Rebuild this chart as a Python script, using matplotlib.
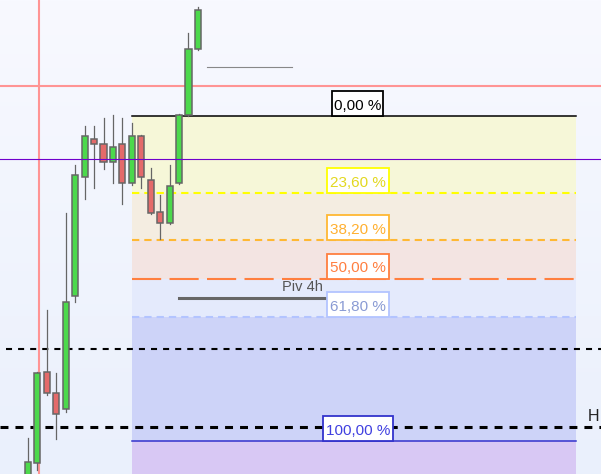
import numpy as np
import matplotlib.pyplot as plt
from matplotlib.patches import Rectangle
from matplotlib.colors import LinearSegmentedColormap

plt.rcParams['font.family'] = ['Liberation Sans', 'DejaVu Sans']

# candles (price units, no axis shown on the chart)
opens = [-11, 11, 102, 81, 65, 178, 297, 335, 330, 312, 330, 291, 338, 294, 262, 251, 291, 359, 425]
closes = [12, 101, 81, 60, 172, 299, 338, 330, 312, 327, 291, 338, 297, 261, 251, 288, 359, 425, 464]
highs = [36, 102, 164, 101, 261, 309, 348, 348, 356, 359, 356, 351, 339, 306, 279, 309, 360, 441, 467]
lows = [-16, 4, 79, 35, 62, 172, 275, 286, 305, 291, 270, 289, 286, 260, 235, 250, 290, 358, 424]

# fibonacci retracement
fib_high = 358
fib_low = 33
fib_start, fib_end = 11, 58
fib_ratios = [0.0, 23.6, 38.2, 50.0, 61.8, 100.0]
fib_labels = ['0,00 %', '23,60 %', '38,20 %', '50,00 %', '61,80 %', '100,00 %']
fib_line_colors = ['black', '#ffff00', '#ffb833', '#ff7f3f', '#b3c4ff', '#3333cc']
fib_text_colors = ['black', '#e2d820', '#ffb030', '#ff7f40', '#8a9bd4', '#4040e0']
fib_fills = ['#f6f7d8', '#f4ede1', '#f3e4e2', '#e4eafc', '#cdd3f8', '#d8c8f4']
fib_box_half = [2.7, 3.25, 3.25, 3.25, 3.25, 3.7]

# other levels / markers
cross_x, cross_y = 1.17, 388
purple_level = 315
dashed_levels = [125, 47]
grey_seg = (19, 28, 407)
pivot_level = 176
pivot_seg = (16, 33.5)

fig = plt.figure(figsize=(6.01, 4.74), dpi=100)
ax = fig.add_axes([0, 0, 1, 1])
xmin, xmax = -28 / 9.44, (601 - 28) / 9.44
ax.set_xlim(xmin, xmax)
ax.set_ylim(0, 474)
ax.axis('off')

# background gradient
cmap = LinearSegmentedColormap.from_list('bg', ['#eaf0fc', '#f8f9ff'])
grad = np.linspace(0, 1, 256).reshape(-1, 1)
ax.imshow(grad, extent=(xmin, xmax, 0, 474), origin='lower', aspect='auto', cmap=cmap, zorder=0)

# fib bands
levels = [fib_high - r / 100 * (fib_high - fib_low) for r in fib_ratios]
bounds = levels + [0]
for k in range(len(levels)):
    ax.fill_between([fib_start, fib_end], bounds[k + 1], bounds[k], color=fib_fills[k], lw=0, zorder=1)

dash_styles = [None, (3.5, 2.4), (3.5, 2.4), (14, 4), (3.5, 2.4), None]
for k, lv in enumerate(levels):
    if dash_styles[k] is None:
        ax.plot([fib_start, fib_end], [lv, lv], color=fib_line_colors[k], lw=1.1, zorder=3)
    else:
        ax.plot([fib_start, fib_end], [lv, lv], color=fib_line_colors[k], lw=1.5,
                dashes=dash_styles[k], zorder=3)

# crosshair and misc lines
ax.axvline(cross_x, color='#ff9494', lw=1.5, zorder=2)
ax.axhline(cross_y, color='#ff9494', lw=1.5, zorder=2)
ax.axhline(purple_level, color='#7000cc', lw=0.8, zorder=6)
ax.plot([xmin + 0.65, xmax], [dashed_levels[0]] * 2, color='black', lw=1.5, dashes=(2.9, 2.9), zorder=4)
ax.plot([xmin, xmax], [dashed_levels[1]] * 2, color='black', lw=2.2, dashes=(2.6, 2.3), zorder=4)
ax.text(59.3, dashed_levels[1] + 3, 'H', fontsize=11.5, color='#222222', va='bottom', ha='left', zorder=7)
ax.plot(grey_seg[:2], [grey_seg[2]] * 2, color='#888888', lw=0.8, zorder=4)

ax.plot(pivot_seg, [pivot_level] * 2, color='#666666', lw=2.2, zorder=4)
ax.text(29.1, pivot_level + 4, 'Piv 4h', fontsize=10.5, color='#555555', ha='center', va='bottom', zorder=7)

# candles
for i in range(len(opens)):
    o, c, h, l = opens[i], closes[i], highs[i], lows[i]
    col = '#4cd94c' if c >= o else '#e46a6a'
    ax.plot([i, i], [l, h], color='#666666', lw=0.9, zorder=5)
    ax.add_patch(Rectangle((i - 0.32, min(o, c)), 0.64, max(abs(c - o), 1.5),
                           facecolor=col, edgecolor='#666666', lw=1.1, zorder=5))

# fib label boxes
cx = 34.95
for k, lv in enumerate(levels):
    hw = fib_box_half[k]
    ax.add_patch(Rectangle((cx - hw, lv), 2 * hw, 25, facecolor='white',
                           edgecolor=fib_line_colors[k], lw=1.3, zorder=8))
    ax.text(cx, lv + 3, fib_labels[k], fontsize=11, color=fib_text_colors[k],
            ha='center', va='bottom', zorder=9)

fig.savefig('out.png', dpi=100)
